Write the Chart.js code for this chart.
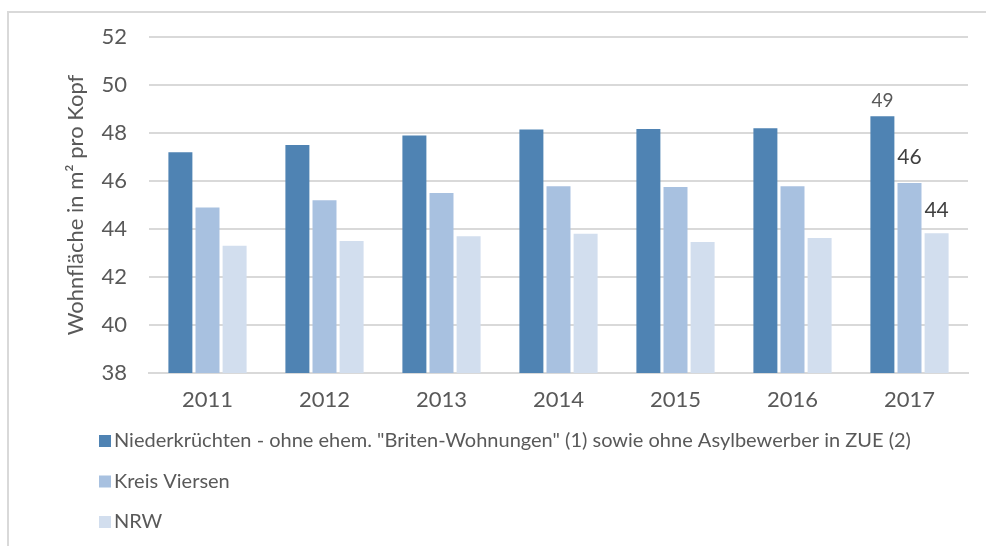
<!DOCTYPE html>
<html>
<head>
<meta charset="utf-8">
<script src="https://cdn.jsdelivr.net/npm/chart.js@4"></script>
<style>
  html, body { margin: 0; padding: 0; background: #fff; }
  #wrap { width: 986px; height: 546px; position: relative; }
</style>
</head>
<body>
<div id="wrap"><canvas id="chart" width="986" height="546"></canvas></div>
<script>
// Wohnfläche pro Kopf 2011-2017
const years = ['2011', '2012', '2013', '2014', '2015', '2016', '2017'];
const niederkruechten = [47.2, 47.5, 47.9, 48.15, 48.17, 48.2, 48.7];
const kreisViersen = [44.9, 45.2, 45.5, 45.78, 45.75, 45.78, 45.92];
const nrw = [43.3, 43.5, 43.7, 43.8, 43.46, 43.63, 43.82];
const seriesNames = [
  'Niederkrüchten - ohne ehem. "Briten-Wohnungen" (1) sowie ohne Asylbewerber in ZUE (2)',
  'Kreis Viersen',
  'NRW'
];
const yMin = 38;
const yMax = 52;
const yStep = 2;

const colors = ['#4f83b3', '#a8c1e0', '#d2deee'];
const fontFamily = 'Lato, "Open Sans", sans-serif';

// frame: top and left border of the original picture
const framePlugin = {
  id: 'frame',
  beforeDraw(chart) {
    const ctx = chart.ctx;
    ctx.save();
    ctx.strokeStyle = '#d9d9d9';
    ctx.lineWidth = 2;
    ctx.beginPath();
    ctx.moveTo(986, 12);
    ctx.lineTo(8, 12);
    ctx.lineTo(8, 546);
    ctx.stroke();
    ctx.restore();
  }
};

// value labels above the last year's bars
const lastLabelsPlugin = {
  id: 'lastLabels',
  afterDatasetsDraw(chart) {
    const ctx = chart.ctx;
    const last = years.length - 1;
    const gaps = [9, 18, 16];
    ctx.save();
    ctx.textAlign = 'center';
    ctx.textBaseline = 'bottom';
    chart.data.datasets.forEach((ds, i) => {
      const bar = chart.getDatasetMeta(i).data[last];
      ctx.fillStyle = i === 0 ? '#595959' : '#404040';
      ctx.font = (i === 0 ? '19px ' : '21px ') + fontFamily;
      ctx.fillText(String(Math.round(ds.data[last])), bar.x, bar.y - gaps[i] + 3);
    });
    ctx.restore();
  }
};

// legend: one entry per line, left aligned below the axis
const stackedLegendPlugin = {
  id: 'stackedLegend',
  afterDraw(chart) {
    const ctx = chart.ctx;
    ctx.save();
    ctx.font = '20px ' + fontFamily;
    ctx.textBaseline = 'middle';
    ctx.textAlign = 'left';
    chart.data.datasets.forEach((ds, i) => {
      const y = 441 + i * 40.5;
      ctx.fillStyle = ds.backgroundColor;
      ctx.fillRect(99, y - 6, 12, 12);
      ctx.fillStyle = '#595959';
      ctx.fillText(ds.label, 114, y);
    });
    ctx.restore();
  }
};

new Chart(document.getElementById('chart'), {
  type: 'bar',
  data: {
    labels: years,
    datasets: [niederkruechten, kreisViersen, nrw].map((values, i) => ({
      label: seriesNames[i],
      data: values,
      backgroundColor: colors[i],
      borderWidth: 0,
      categoryPercentage: 0.695,
      barPercentage: 0.885
    }))
  },
  options: {
    responsive: false,
    animation: false,
    layout: { padding: { top: 37, right: 18, bottom: 0, left: 0 } },
    plugins: {
      legend: { display: false },
      tooltip: { enabled: false }
    },
    scales: {
      x: {
        grid: { display: false, drawTicks: false },
        border: { color: '#d9d9d9', width: 2 },
        ticks: { color: '#595959', font: { family: fontFamily, size: 22 }, padding: 14 },
        afterFit(scale) { scale.height = 173; }
      },
      y: {
        min: yMin,
        max: yMax,
        ticks: { stepSize: yStep, color: '#595959', font: { family: fontFamily, size: 22 }, padding: 22 },
        grid: { color: '#d9d9d9', lineWidth: 2, drawTicks: false },
        border: { display: false },
        title: {
          display: true,
          text: 'Wohnfläche in m² pro Kopf',
          color: '#595959',
          font: { family: fontFamily, size: 22 },
          padding: { top: 63, bottom: 0 }
        },
        afterFit(scale) { scale.width = 149; }
      }
    }
  },
  plugins: [framePlugin, lastLabelsPlugin, stackedLegendPlugin]
});
</script>
</body>
</html>
